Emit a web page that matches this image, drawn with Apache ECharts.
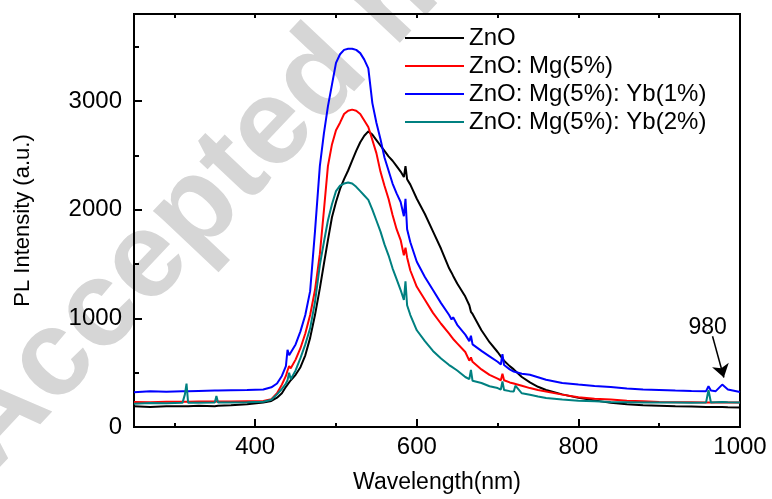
<!DOCTYPE html>
<html>
<head>
<meta charset="utf-8">
<script src="https://cdn.jsdelivr.net/npm/echarts@6/dist/echarts.min.js"></script>
<style>
  html, body { margin: 0; padding: 0; background: #fff; }
  #pl-chart { width: 772px; height: 499px; }
</style>
</head>
<body>
<div id="pl-chart"></div>
<script>
// wavelength (nm) sample points, shared by all four spectra
const wavelength = [
  250, 270, 290, 310, 313, 315, 317, 330, 350, 352, 354, 370, 390, 410, 420, 427, 433, 438, 440, 442,
  444, 450, 456, 462, 468, 474, 480, 485, 490, 495, 500, 505, 510, 515, 520, 525, 530, 535, 540, 545,
  550, 555, 560, 565, 570, 575, 580, 584, 586, 588, 592, 600, 610, 620, 630, 640, 643, 645, 650, 660,
  665, 667, 669, 680, 690, 700, 704, 706, 708, 715, 720, 722, 730, 740, 750, 760, 780, 800, 820, 840,
  860, 880, 900, 920, 940, 958, 961, 964, 970, 978, 980, 985, 1000
]

const znO = [
  190, 185, 190, 190, 190, 190, 190, 195, 190, 195, 195, 200, 210, 225, 240, 270, 310, 370, 390, 410,
  430, 480, 550, 660, 820, 1030, 1275, 1500, 1720, 1930, 2070, 2190, 2280, 2360, 2450, 2540, 2620, 2680, 2720, 2690,
  2640, 2590, 2540, 2490, 2450, 2400, 2350, 2300, 2400, 2280, 2230, 2100, 1960, 1800, 1640, 1460, 1420, 1390, 1320, 1200,
  1120, 1060, 1040, 890, 780, 690, 650, 630, 610, 560, 530, 515, 460, 410, 370, 340, 300, 268, 245, 222,
  210, 200, 195, 190, 188, 185, 185, 185, 183, 183, 183, 182, 180
]

const znOMg5 = [
  230, 228, 232, 232, 232, 232, 232, 235, 235, 235, 235, 235, 238, 240, 255, 310, 390, 470, 520, 560,
  540, 620, 725, 860, 1030, 1260, 1590, 1990, 2400, 2600, 2730, 2800, 2880, 2910, 2920, 2910, 2880, 2820, 2760, 2640,
  2520, 2350, 2220, 2100, 1950, 1820, 1720, 1580, 1650, 1560, 1440, 1290, 1170, 1050, 950, 860, 830, 810, 770, 690,
  610, 640, 600, 530, 480, 445, 430, 490, 430, 410, 400, 395, 380, 358, 340, 327, 298, 273, 260, 252,
  242, 236, 230, 228, 228, 226, 226, 226, 226, 228, 228, 226, 226
]

const znOMg5Yb1 = [
  320, 330, 325, 330, 330, 335, 330, 332, 335, 335, 335, 338, 340, 345, 365, 400, 470, 560, 710, 660,
  650, 760, 880, 1030, 1250, 1800, 2400, 2700, 2950, 3150, 3350, 3430, 3470, 3480, 3480, 3470, 3440, 3380, 3300, 2980,
  2800, 2650, 2480, 2360, 2240, 2150, 2070, 1940, 2100, 1820, 1700, 1520, 1380, 1260, 1140, 1030, 990, 1010, 940, 850,
  790, 840, 760, 700, 650, 600, 575, 670, 570, 530, 510, 505, 490, 480, 458, 435, 405, 390, 378, 368,
  355, 345, 340, 335, 332, 330, 375, 335, 330, 390, 385, 345, 322
]

const znOMg5Yb2 = [
  215, 220, 218, 222, 300, 400, 222, 222, 225, 285, 225, 225, 228, 232, 250, 300, 350, 400, 430, 500,
  440, 520, 633, 760, 908, 1150, 1490, 1700, 1900, 2050, 2170, 2220, 2240, 2250, 2240, 2210, 2170, 2130, 2090, 2000,
  1900, 1800, 1680, 1580, 1460, 1360, 1260, 1170, 1340, 1120, 1030, 890, 790, 700, 630, 570, 555, 545, 520, 460,
  440, 525, 425, 405, 375, 358, 345, 420, 340, 330, 327, 380, 310, 297, 280, 266, 252, 242, 236, 229,
  228, 226, 225, 225, 224, 226, 340, 226, 228, 230, 230, 228, 226
]

const seriesNames = ['ZnO', 'ZnO: Mg(5%)', 'ZnO: Mg(5%): Yb(1%)', 'ZnO: Mg(5%): Yb(2%)']
const seriesColors = ['#000000', '#ff0000', '#0000ff', '#008080']
const seriesValues = [znO, znOMg5, znOMg5Yb1, znOMg5Yb2]

const xMajorTicks = [400, 600, 800, 1000]
const xMinorTicks = [300, 500, 700, 900]
const yMajorTicks = [0, 1000, 2000, 3000]
const yMinorTicks = [500, 1500, 2500, 3500]

const FONT = 'Liberation Sans'

const chart = echarts.init(document.getElementById('pl-chart'))

function pairs(vals) {
  return wavelength.map((w, i) => [w, vals[i]])
}

const series = seriesNames.map((name, i) => ({
  name: name,
  type: 'line',
  symbol: 'none',
  data: pairs(seriesValues[i]),
  lineStyle: { color: seriesColors[i], width: 2 },
  itemStyle: { color: seriesColors[i] },
  xAxisIndex: 0,
  yAxisIndex: 0
}))

// arrow + "980" note hang on the blue series
series[2].markLine = {
  silent: true,
  symbol: ['none', 'arrow'],
  symbolSize: 13,
  label: { show: false },
  lineStyle: { color: '#000', width: 1.5, type: 'solid' },
  data: [[{ coord: [966, 835] }, { coord: [980, 455] }]]
}
series[2].markPoint = {
  silent: true,
  symbol: 'circle',
  symbolSize: 0,
  label: { show: true, position: 'inside', formatter: '980', color: '#000', fontSize: 23, fontFamily: FONT },
  data: [{ coord: [960, 917] }]
}

const xBase = { type: 'value', min: 250, max: 1000, splitLine: { show: false } }
const yBase = { type: 'value', min: 0, max: 3800, splitLine: { show: false } }
const plain = v => String(v)

const option = {
  animation: false,
  backgroundColor: '#fff',
  grid: {
    left: 134, right: 32, top: 14, bottom: 70,
    show: true, borderColor: '#000', borderWidth: 2
  },
  legend: {
    orient: 'vertical',
    left: 400,
    top: 19,
    icon: 'rect',
    itemWidth: 59,
    itemHeight: 2,
    itemGap: 0,
    data: seriesNames,
    textStyle: { fontFamily: FONT, fontSize: 24, color: '#000', lineHeight: 28 }
  },
  graphic: [{
    type: 'text',
    x: 14,
    y: 492,
    rotation: 0.815,
    z: -10,
    silent: true,
    style: {
      text: 'Accepted manuscript',
      font: 'bold 122px "Liberation Sans"',
      fill: '#d6d6d6',
      align: 'left',
      verticalAlign: 'bottom'
    }
  }],
  xAxis: [
    Object.assign({}, xBase, {
      position: 'bottom',
      name: 'Wavelength(nm)',
      nameLocation: 'middle',
      nameGap: 44,
      nameTextStyle: { fontFamily: FONT, fontSize: 23, color: '#000' },
      axisLine: { show: true, lineStyle: { color: '#000', width: 2 } },
      axisTick: { show: true, inside: true, length: 8, customValues: xMajorTicks, lineStyle: { color: '#000', width: 2 } },
      axisLabel: { show: true, customValues: xMajorTicks, formatter: plain, margin: 8, fontFamily: FONT, fontSize: 24, color: '#000' }
    }),
    Object.assign({}, xBase, {
      position: 'bottom',
      axisLine: { show: false },
      axisTick: { show: true, inside: true, length: 4, customValues: xMinorTicks, lineStyle: { color: '#000', width: 2 } },
      axisLabel: { show: false }
    }),
    Object.assign({}, xBase, {
      position: 'top',
      axisLine: { show: true, lineStyle: { color: '#000', width: 2 } },
      axisTick: { show: true, inside: true, length: 4, customValues: xMinorTicks.concat(xMajorTicks), lineStyle: { color: '#000', width: 2 } },
      axisLabel: { show: false }
    })
  ],
  yAxis: [
    Object.assign({}, yBase, {
      position: 'left',
      name: 'PL Intensity (a.u.)',
      nameLocation: 'middle',
      nameGap: 100,
      nameTextStyle: { fontFamily: FONT, fontSize: 22, color: '#000' },
      axisLine: { show: true, lineStyle: { color: '#000', width: 2 } },
      axisTick: { show: true, inside: true, length: 8, customValues: yMajorTicks, lineStyle: { color: '#000', width: 2 } },
      axisLabel: { show: true, customValues: yMajorTicks, formatter: plain, margin: 12, fontFamily: FONT, fontSize: 24, color: '#000' }
    }),
    Object.assign({}, yBase, {
      position: 'left',
      axisLine: { show: false },
      axisTick: { show: true, inside: true, length: 5, customValues: yMinorTicks, lineStyle: { color: '#000', width: 2 } },
      axisLabel: { show: false }
    })
  ],
  series: series
}

chart.setOption(option)
</script>
</body>
</html>
